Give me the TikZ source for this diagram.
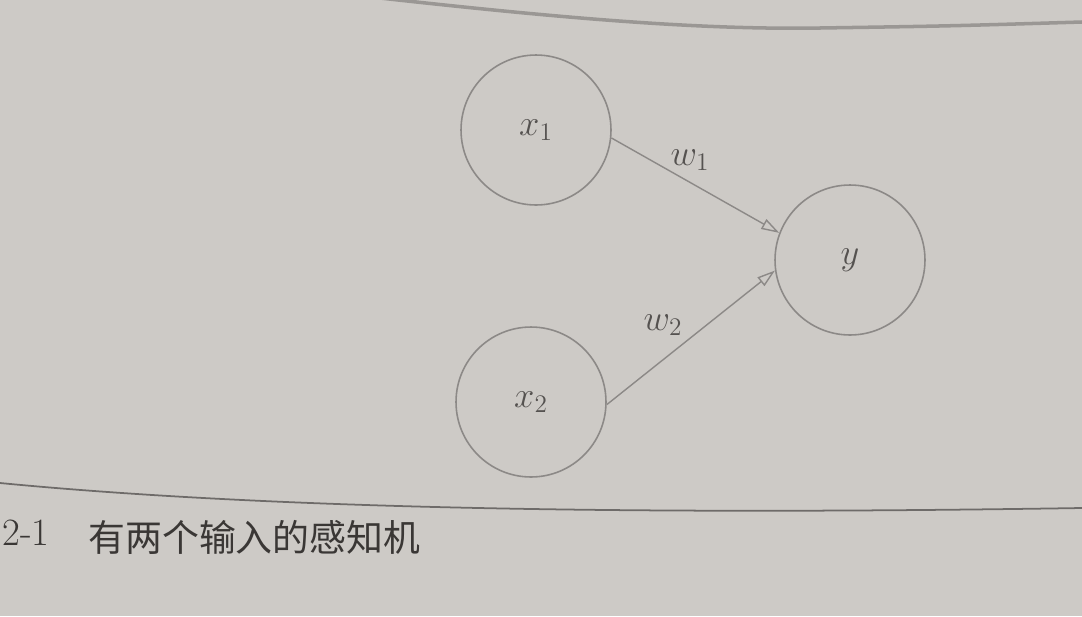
\documentclass[tikz,border=0pt]{standalone}
\usepackage{fontspec}
\newfontfamily\cjk{Noto Sans CJK SC}
\usetikzlibrary{arrows.meta}
\definecolor{paper}{HTML}{CDCAC6}
\definecolor{inkline}{HTML}{8C8987}
\definecolor{inktext}{HTML}{555250}
\definecolor{inkcap}{HTML}{3A3735}
\definecolor{inkrule}{HTML}{6E6B69}
\definecolor{pageedge}{HTML}{9A9794}
\tikzset{
  neuron/.style    = {circle, draw=inkline, line width=0.9pt, minimum size=3cm,
                      inner sep=0pt, text=inktext, font=\fontsize{20}{24}\selectfont},
  synapse/.style   = {draw=inkline, line width=0.8pt,
                      -{Triangle[open, length=3.6mm, width=2.2mm]}},
  weightlab/.style = {text=inktext, font=\fontsize{20}{24}\selectfont, inner sep=0pt},
  caplab/.style    = {text=inkcap, inner sep=0pt, anchor=base west},
  rulebar/.style   = {draw=inkrule, line width=1pt},
}

\begin{document}
\begin{tikzpicture}[x=0.02cm, y=-0.02cm]
  \useasboundingbox (0,0) rectangle (1082,616);
  \fill[paper] (0,0) rectangle (1082,616);
  % edge of the page above
  \draw[pageedge, line width=2pt, line cap=round]
    (380,-2) .. controls (560,18) and (700,30) .. (820,28)
    .. controls (950,26) .. (1082,22);
  \node[neuron] (x1) at (536,130) {$x_1$};
  \node[neuron] (x2) at (531,402) {$x_2$};
  \node[neuron] (y) at (850,260) {$y$};
  \draw[synapse] (x1.-6) -- (y.159);
  \draw[synapse] (x2.-2) -- (y.188);
  \node[weightlab] (w1) at (690,160) {$w_1$};
  \node[weightlab] (w2) at (663,325) {$w_2$};
  % figure rule and caption
  \draw[rulebar] (0,483) .. controls (300,512) and (700,514) .. (1082,508);
  \node[caplab, font=\fontsize{22}{26}\selectfont] (capnum) at (2,545) {2-1};
  \node[caplab, font=\cjk\fontsize{21}{25}\selectfont] (captext) at (88,551)
    {有两个输入的感知机};
\end{tikzpicture}
\end{document}
